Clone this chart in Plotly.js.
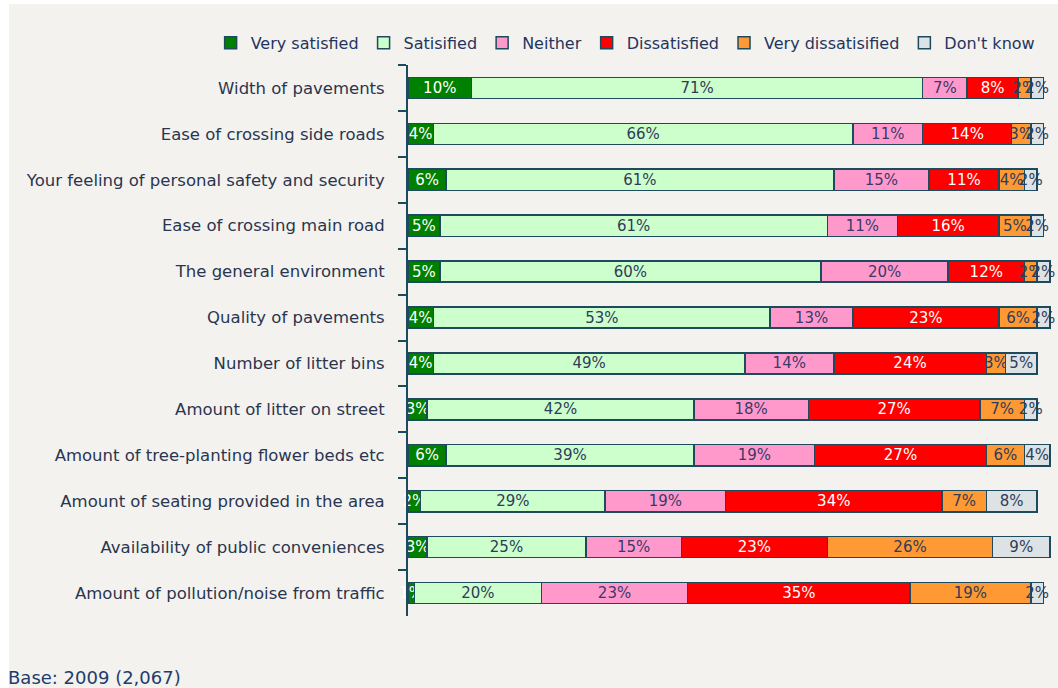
<!DOCTYPE html>
<html>
<head>
<meta charset="utf-8">
<script src="https://cdn.plot.ly/plotly-3.0.1.min.js"></script>
<style>
html,body{margin:0;padding:0;background:#ffffff;width:1058px;height:688px;overflow:hidden;}
#chart{position:absolute;left:9px;top:4px;width:1049px;height:684px;}
</style>
</head>
<body>
<div id="chart"></div>
<script>
const categories = [
  "Width of pavements",
  "Ease of crossing side roads",
  "Your feeling of personal safety and security",
  "Ease of crossing main road",
  "The general environment",
  "Quality of pavements",
  "Number of litter bins",
  "Amount of litter on street",
  "Amount of tree-planting flower beds etc",
  "Amount of seating provided in the area",
  "Availability of public conveniences",
  "Amount of pollution/noise from traffic"
];
const seriesNames = ["Very satisfied","Satisified","Neither","Dissatisfied","Very dissatisified","Don't know"];
const verySatisfied    = [10, 4, 6, 5, 5, 4, 4, 3, 6, 2, 3, 1];
const satisfied        = [71, 66, 61, 61, 60, 53, 49, 42, 39, 29, 25, 20];
const neither          = [7, 11, 15, 11, 20, 13, 14, 18, 19, 19, 15, 23];
const dissatisfied     = [8, 14, 11, 16, 12, 23, 24, 27, 27, 34, 23, 35];
const veryDissatisfied = [2, 3, 4, 5, 2, 6, 3, 7, 6, 7, 26, 19];
const dontKnow         = [2, 2, 2, 2, 2, 2, 5, 2, 4, 8, 9, 2];
const baseNote = "Base: 2009 (2,067)";

const seriesValues = [verySatisfied, satisfied, neither, dissatisfied, veryDissatisfied, dontKnow];
const fillColors = ["#008000", "#ccffcc", "#ff99cc", "#ff0000", "#ff9933", "#dde3e4"];
const textColors = ["#ffffff", "#2e3c5a", "#3a3a6a", "#ffffff", "#2e3c5a", "#2e3c5a"];
const edge = "#1d4a5c";

const traces = seriesNames.map((name, i) => ({
  type: "bar",
  orientation: "h",
  name: name,
  y: categories,
  x: seriesValues[i],
  text: seriesValues[i].map(v => v + "%"),
  texttemplate: "%{text}",
  textposition: "inside",
  insidetextanchor: "middle",
  textangle: 0,
  constraintext: "none",
  cliponaxis: false,
  textfont: {family: "DejaVu Sans, Verdana, sans-serif", size: 15, color: textColors[i]},
  marker: {color: fillColors[i], line: {color: edge, width: 1.5}},
  hoverinfo: "skip"
}));

const layout = {
  width: 1049,
  height: 684,
  paper_bgcolor: "#f3f2ee",
  plot_bgcolor: "#f3f2ee",
  barmode: "stack",
  bargap: 0.54,
  margin: {l: 399, r: 5, t: 61, b: 72, pad: 0, autoexpand: false},
  showlegend: true,
  legend: {
    orientation: "h",
    x: -0.306, xanchor: "left",
    y: 1.04, yanchor: "middle",
    traceorder: "normal",
    itemwidth: 30,
    font: {family: "DejaVu Sans, Verdana, sans-serif", size: 16, color: "#1f3560"},
    itemclick: false, itemdoubleclick: false,
    bgcolor: "rgba(0,0,0,0)"
  },
  xaxis: {
    range: [0, 101.5],
    showgrid: false, zeroline: false, showline: false,
    showticklabels: false, ticks: "", fixedrange: true
  },
  yaxis: {
    type: "category",
    autorange: "reversed",
    showgrid: false, zeroline: false,
    showline: true, linecolor: edge, linewidth: 2,
    ticks: "outside", tickson: "boundaries", ticklen: 8, tickwidth: 2, tickcolor: edge,
    ticklabelstandoff: 18,
    tickfont: {family: "DejaVu Sans, Verdana, sans-serif", size: 16.5, color: "#2a3550"},
    fixedrange: true
  },
  annotations: [{
    text: baseNote,
    xref: "paper", yref: "paper",
    x: -402 / 645, y: -61 / 551,
    xanchor: "left", yanchor: "middle",
    showarrow: false,
    font: {family: "DejaVu Sans, Verdana, sans-serif", size: 18, color: "#1f3d6b"}
  }]
};

Plotly.newPlot("chart", traces, layout, {displayModeBar: false, staticPlot: true});
</script>
</body>
</html>
